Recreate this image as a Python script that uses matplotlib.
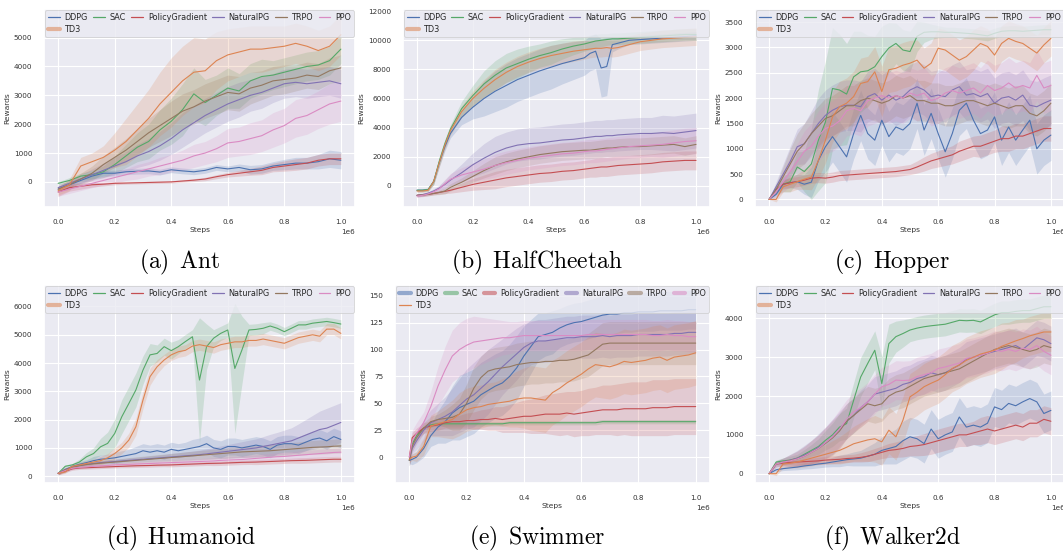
import numpy as np
import matplotlib
matplotlib.use("Agg")
import matplotlib.pyplot as plt
from matplotlib.ticker import MultipleLocator
import seaborn as sns

sns.set_theme(style="darkgrid")
plt.rcParams["font.family"] = ["DejaVu Sans"]
plt.rcParams["mathtext.fontset"] = "cm"

ALGOS = ["DDPG", "SAC", "PolicyGradient", "NaturalPG", "TRPO", "PPO", "TD3"]
COLORS = ["#4C72B0", "#55A868", "#C44E52", "#8172B3", "#937860", "#DA8BC3", "#DD8452"]

# ---------------- (a) Ant ----------------
ANT_STEPS = [0.0, 0.04, 0.08, 0.12, 0.16, 0.2, 0.24, 0.28, 0.32, 0.36, 0.4, 0.44, 0.48,
             0.52, 0.56, 0.6, 0.64, 0.68, 0.72, 0.76, 0.8, 0.84, 0.88, 0.92, 0.96, 1.0]
ANT_DDPG = [-250, -100, 50, 200, 300, 300, 350, 370, 380, 340, 420, 380, 350, 400, 500, 450, 500, 420, 450, 550, 600, 650, 650, 700, 800, 750]
ANT_SAC = [-50, 50, 200, 250, 350, 600, 900, 1200, 1400, 1800, 2100, 2500, 3050, 2750, 3000, 3250, 3150, 3500, 3650, 3700, 3800, 3900, 4000, 4050, 4200, 4600]
ANT_PG = [-350, -200, -150, -100, -80, -50, -40, -30, -20, -10, 0, 30, 60, 100, 180, 250, 300, 350, 400, 500, 550, 600, 650, 750, 800, 800]
ANT_NPG = [-200, -50, 100, 250, 400, 550, 700, 900, 1050, 1250, 1500, 1800, 2050, 2300, 2500, 2700, 2850, 3000, 3100, 3250, 3400, 3450, 3400, 3450, 3500, 3400]
ANT_TRPO = [-250, -100, 100, 300, 600, 850, 1100, 1400, 1700, 1950, 2200, 2450, 2600, 2800, 2950, 3100, 3050, 3250, 3350, 3500, 3550, 3600, 3700, 3650, 3850, 3950]
ANT_PPO = [-350, -250, -150, -50, 50, 150, 250, 350, 450, 550, 650, 750, 900, 1000, 1150, 1350, 1400, 1500, 1600, 1800, 1950, 2200, 2300, 2500, 2700, 2800]
ANT_TD3 = [-300, -100, 550, 700, 850, 1100, 1400, 1800, 2200, 2700, 3100, 3500, 3800, 3850, 4200, 4400, 4500, 4600, 4600, 4650, 4700, 4800, 4700, 4550, 4700, 5100]
ANT_DDPG_SD = [100, 100, 100, 100, 100, 100, 100, 100, 100, 100, 100, 100, 100, 100, 100, 100, 120, 150, 150, 150, 180, 200, 200, 250, 300, 300]
ANT_SAC_SD = [50, 100, 100, 150, 200, 300, 400, 500, 600, 700, 800, 900, 900, 800, 700, 700, 600, 600, 600, 500, 500, 500, 500, 500, 500, 500]
ANT_PG_SD = [150, 120, 100, 80, 60, 50, 40, 40, 40, 40, 40, 40, 50, 60, 70, 80, 100, 120, 150, 150, 180, 200, 200, 200, 200, 200]
ANT_NPG_SD = [100, 100, 150, 200, 250, 300, 350, 400, 450, 500, 550, 600, 600, 600, 600, 600, 600, 550, 550, 500, 500, 500, 500, 500, 500, 500]
ANT_TRPO_SD = [100, 150, 200, 250, 300, 350, 400, 450, 500, 550, 600, 600, 600, 600, 600, 600, 600, 550, 500, 500, 500, 450, 450, 450, 450, 450]
ANT_PPO_SD = [150, 150, 150, 150, 150, 200, 200, 250, 250, 300, 300, 350, 400, 400, 450, 500, 500, 550, 550, 600, 600, 650, 650, 650, 700, 700]
ANT_TD3_SD = [150, 200, 300, 300, 400, 600, 800, 900, 1000, 1100, 1200, 1200, 1200, 1100, 1000, 900, 850, 800, 800, 750, 700, 700, 700, 700, 700, 700]

# ---------------- (b) HalfCheetah ----------------
HC_STEPS = [0.0, 0.02, 0.04, 0.06, 0.08, 0.1, 0.12, 0.16, 0.2, 0.24, 0.28, 0.32, 0.36, 0.4, 0.44, 0.48,
            0.52, 0.56, 0.6, 0.62, 0.64, 0.66, 0.68, 0.7, 0.72, 0.76, 0.8, 0.84, 0.88, 0.92, 0.96, 1.0]
HC_DDPG = [-300, -300, -250, 300, 1600, 2700, 3600, 4700, 5400, 6000, 6500, 6900, 7300, 7600, 7900, 8150,
           8400, 8600, 8800, 9100, 9250, 8100, 8200, 9700, 9800, 10000, 10050, 10100, 10150, 10200, 10250, 10300]
HC_SAC = [-300, -300, -250, 300, 1700, 2900, 3900, 5300, 6200, 7000, 7600, 8100, 8400, 8700, 8950, 9150,
          9400, 9600, 9750, 9850, 9950, 10000, 10050, 10100, 10100, 10150, 10200, 10250, 10300, 10350, 10400, 10400]
HC_PG = [-650, -620, -580, -520, -450, -380, -300, -100, 100, 250, 400, 550, 650, 750, 850, 900,
         1000, 1050, 1150, 1200, 1250, 1300, 1300, 1350, 1400, 1450, 1500, 1550, 1650, 1700, 1750, 1750]
HC_NPG = [-650, -600, -500, -350, -150, 100, 400, 900, 1450, 1900, 2300, 2600, 2800, 2900, 2950, 3050,
          3150, 3200, 3300, 3350, 3400, 3400, 3450, 3450, 3500, 3550, 3600, 3600, 3650, 3600, 3700, 3800]
HC_TRPO = [-650, -620, -580, -520, -450, -350, -100, 250, 650, 1050, 1400, 1650, 1850, 2000, 2150, 2250,
           2350, 2400, 2450, 2450, 2500, 2550, 2600, 2600, 2650, 2700, 2700, 2750, 2800, 2850, 2700, 2850]
HC_PPO = [-700, -650, -550, -400, -200, 150, 450, 750, 950, 1150, 1400, 1600, 1750, 1900, 2000, 2100,
          2200, 2250, 2350, 2400, 2400, 2450, 2500, 2550, 2600, 2700, 2750, 2800, 2850, 2950, 3050, 3100]
HC_TD3 = [-350, -350, -300, 300, 1600, 2800, 3800, 5100, 6000, 6700, 7300, 7800, 8200, 8500, 8750, 8950,
          9100, 9250, 9350, 9400, 9450, 9450, 9500, 9450, 9500, 9700, 9900, 10000, 10100, 10150, 10200, 10250]
HC_DDPG_SD = [100, 100, 100, 200, 300, 300, 300, 500, 800, 1200, 1400, 1500, 1500, 1500, 1500, 1500,
              1400, 1300, 1200, 1200, 1200, 2000, 2000, 500, 400, 300, 300, 300, 300, 300, 300, 300]
HC_SAC_SD = [100, 100, 100, 200, 300, 300, 300, 500, 700, 900, 1000, 1000, 1000, 900, 800, 800,
             700, 600, 500, 500, 450, 450, 400, 400, 400, 400, 400, 400, 400, 400, 400, 400]
HC_PG_SD = [100, 100, 100, 100, 120, 150, 200, 300, 400, 500, 600, 600, 600, 600, 600, 600,
            600, 600, 600, 600, 650, 650, 650, 650, 650, 650, 650, 650, 650, 650, 650, 650]
HC_NPG_SD = [100, 100, 100, 150, 200, 300, 400, 600, 800, 1000, 1100, 1100, 1100, 1100, 1100, 1100,
             1100, 1100, 1100, 1100, 1100, 1100, 1100, 1100, 1100, 1100, 1100, 1100, 1200, 1200, 1200, 1200]
HC_TRPO_SD = [100, 100, 100, 100, 150, 200, 250, 300, 400, 500, 600, 600, 600, 600, 600, 600,
              600, 600, 600, 600, 600, 600, 600, 600, 600, 600, 600, 600, 600, 600, 600, 600]
HC_PPO_SD = [100, 100, 100, 150, 200, 300, 400, 500, 600, 700, 800, 800, 800, 800, 800, 800,
             800, 800, 800, 800, 800, 800, 800, 800, 800, 800, 800, 800, 900, 900, 900, 900]
HC_TD3_SD = [100, 100, 100, 200, 300, 300, 300, 400, 500, 600, 700, 700, 700, 700, 700, 700,
             700, 700, 650, 600, 600, 600, 600, 600, 600, 600, 600, 600, 600, 600, 600, 600]

# ---------------- (c) Hopper (steps every 0.025) ----------------
HOP_STEPS = [0.0, 0.025, 0.05, 0.075, 0.1, 0.125, 0.15, 0.175, 0.2, 0.225,
             0.25, 0.275, 0.3, 0.325, 0.35, 0.375, 0.4, 0.425, 0.45, 0.475,
             0.5, 0.525, 0.55, 0.575, 0.6, 0.625, 0.65, 0.675, 0.7, 0.725,
             0.75, 0.775, 0.8, 0.825, 0.85, 0.875, 0.9, 0.925, 0.95, 0.975, 1.0]
HOP_DDPG = [0, 100, 300, 330, 350, 300, 340, 770, 1040, 1240,
            1040, 840, 1300, 1660, 1300, 1170, 1565, 1240, 1430, 1370,
            1500, 1900, 1370, 1700, 1300, 940, 1300, 1760, 1900, 1565,
            1300, 1370, 1630, 1170, 1430, 1170, 1370, 1565, 1000, 1170, 1270]
HOP_SAC = [0, 200, 300, 350, 640, 550, 700, 1170, 1530, 2190,
           2160, 2080, 2420, 2520, 2540, 2620, 2820, 2990, 3080, 2950,
           2920, 3220, 3300, 3310, 3310, 3300, 3300, 3290, 3280, 3270,
           3250, 3230, 3280, 3320, 3330, 3330, 3320, 3330, 3340, 3350, 3350]
HOP_PG = [0, 200, 300, 330, 350, 380, 420, 430, 420, 440,
          470, 480, 490, 500, 510, 520, 530, 540, 550, 570,
          590, 640, 700, 760, 800, 840, 880, 950, 1000, 1050,
          1050, 1100, 1150, 1200, 1200, 1250, 1250, 1300, 1350, 1400, 1400]
HOP_NPG = [0, 250, 500, 750, 1040, 1100, 1300, 1500, 1660, 1760,
           1830, 1860, 1860, 1830, 2030, 2090, 1960, 2060, 1960, 2030,
           2160, 2225, 2160, 2030, 2060, 2030, 2160, 2225, 2060, 2090,
           2030, 2090, 1900, 2000, 2030, 1960, 2060, 1860, 1830, 1900, 1960]
HOP_TRPO = [0, 200, 450, 700, 950, 1100, 1300, 1450, 1600, 1650,
            1750, 1850, 1850, 1950, 2000, 1950, 1900, 1950, 2050, 2000,
            2050, 1950, 1950, 1900, 1900, 1850, 1850, 1900, 1950, 1950,
            1900, 1850, 1900, 1850, 1800, 1850, 1850, 1700, 1650, 1750, 1900]
HOP_PPO = [0, 150, 350, 550, 750, 950, 1050, 1250, 1400, 1450,
           1550, 1750, 1800, 1750, 1950, 2000, 2050, 2000, 2050, 2000,
           2100, 2050, 2100, 1950, 2000, 2100, 2150, 2100, 2150, 2200,
           2100, 2250, 2150, 2200, 2300, 2200, 2250, 2200, 2450, 2200, 2250]
HOP_TD3 = [0, 0, 250, 300, 350, 400, 440, 770, 1170, 1630,
           1830, 1900, 2030, 2290, 2325, 2520, 2130, 2560, 2590, 2650,
           2690, 2750, 2590, 2690, 2985, 2950, 2850, 2750, 2820, 2950,
           3080, 3020, 2850, 3080, 3180, 3120, 3080, 2985, 2890, 3050, 3180]
HOP_DDPG_SD = [0, 50, 100, 100, 150, 200, 300, 400, 500, 500,
               500, 500, 500, 500, 500, 500, 500, 500, 500, 500,
               500, 500, 500, 500, 500, 500, 500, 500, 500, 500,
               500, 500, 500, 500, 500, 500, 500, 500, 500, 500, 500]
HOP_SAC_SD = [0, 100, 150, 200, 300, 400, 700, 1000, 1200, 1200,
              1100, 1000, 900, 800, 700, 600, 600, 500, 400, 400,
              400, 300, 200, 150, 120, 100, 100, 100, 100, 100,
              100, 100, 100, 100, 100, 100, 100, 100, 100, 100, 100]
HOP_PG_SD = [0, 50, 80, 100, 100, 100, 100, 100, 100, 100,
             100, 100, 100, 100, 100, 100, 100, 100, 100, 100,
             100, 120, 140, 150, 160, 170, 180, 200, 200, 200,
             220, 220, 220, 250, 250, 250, 250, 250, 250, 250, 250]
HOP_NPG_SD = [0, 100, 200, 300, 350, 400, 450, 500, 500, 500,
              500, 500, 500, 500, 500, 500, 500, 500, 500, 500,
              500, 500, 500, 500, 500, 500, 500, 500, 500, 500,
              500, 500, 500, 500, 500, 500, 500, 500, 500, 500, 500]
HOP_TRPO_SD = [0, 100, 200, 300, 350, 400, 400, 400, 400, 400,
               400, 400, 400, 400, 400, 400, 400, 400, 400, 400,
               400, 400, 400, 400, 400, 400, 400, 400, 400, 400,
               400, 400, 400, 400, 400, 400, 400, 400, 400, 400, 400]
HOP_PPO_SD = [0, 100, 200, 300, 350, 400, 450, 500, 500, 500,
              500, 500, 500, 500, 500, 500, 500, 500, 500, 500,
              500, 500, 500, 500, 500, 500, 500, 500, 500, 500,
              500, 500, 500, 500, 500, 500, 500, 500, 500, 500, 500]
HOP_TD3_SD = [0, 50, 100, 150, 150, 200, 250, 350, 450, 500,
              500, 500, 500, 500, 500, 500, 500, 450, 450, 450,
              450, 400, 400, 400, 400, 400, 400, 400, 400, 400,
              350, 350, 350, 350, 350, 350, 350, 350, 350, 350, 350]

# ---------------- (d) Humanoid (steps every 0.025) ----------------
HUM_STEPS = HOP_STEPS
HUM_DDPG = [100, 200, 350, 420, 480, 550, 600, 620, 650, 700,
            750, 800, 900, 850, 900, 850, 950, 900, 950, 1000,
            1050, 1150, 1000, 950, 1050, 1050, 1000, 1050, 1100, 1050,
            950, 1100, 1150, 1150, 1100, 1200, 1300, 1350, 1250, 1400, 1300]
HUM_SAC = [100, 350, 400, 500, 685, 800, 1040, 1160, 1510, 2100,
           2570, 3050, 3750, 4290, 4340, 4580, 4440, 4580, 4760, 4930,
           3400, 4580, 4880, 5050, 5170, 3810, 4460, 5170, 5190, 5230,
           5310, 5230, 5110, 5230, 5350, 5350, 5410, 5440, 5470, 5430, 5380]
HUM_PG = [100, 180, 260, 290, 300, 310, 320, 330, 340, 350,
          360, 370, 375, 380, 390, 395, 400, 410, 420, 430,
          440, 450, 455, 460, 470, 480, 490, 495, 500, 510,
          520, 530, 540, 550, 555, 560, 570, 580, 590, 600, 600]
HUM_NPG = [100, 250, 330, 380, 420, 450, 480, 500, 520, 540,
           560, 580, 600, 620, 640, 660, 680, 700, 720, 740,
           760, 790, 820, 850, 880, 910, 940, 970, 1000, 1050,
           1100, 1150, 1200, 1250, 1350, 1450, 1550, 1650, 1700, 1800, 1900]
HUM_TRPO = [100, 230, 320, 370, 410, 440, 460, 480, 500, 520,
            540, 560, 580, 600, 620, 640, 660, 680, 700, 720,
            740, 760, 780, 800, 820, 840, 860, 870, 880, 890,
            900, 920, 940, 960, 980, 1000, 1020, 1030, 1040, 1060, 1070]
HUM_PPO = [100, 200, 280, 310, 330, 350, 370, 380, 400, 410,
           420, 430, 440, 450, 460, 470, 480, 490, 500, 510,
           520, 530, 540, 560, 570, 580, 590, 610, 630, 650,
           670, 690, 700, 720, 740, 760, 780, 800, 820, 840, 850]
HUM_TD3 = [100, 150, 350, 400, 450, 500, 550, 650, 800, 1000,
           1275, 1750, 2690, 3520, 3870, 4110, 4290, 4400, 4450, 4600,
           4650, 4600, 4550, 4650, 4700, 4750, 4750, 4800, 4800, 4850,
           4800, 4750, 4700, 4800, 4900, 4950, 5000, 4950, 5200, 5200, 5050]
HUM_DDPG_SD = [50, 50, 80, 100, 100, 150, 150, 150, 200, 200,
               200, 250, 250, 250, 250, 250, 250, 250, 250, 300,
               300, 300, 300, 300, 300, 300, 300, 300, 300, 300,
               300, 300, 300, 300, 300, 300, 300, 300, 300, 300, 300]
HUM_SAC_SD = [50, 50, 50, 100, 150, 200, 300, 400, 500, 600,
              600, 600, 500, 400, 300, 300, 300, 250, 250, 250,
              2200, 800, 300, 250, 250, 2300, 1200, 200, 200, 200,
              150, 150, 150, 150, 150, 150, 150, 150, 150, 150, 150]
HUM_PG_SD = [50, 50, 50, 50, 50, 50, 50, 50, 50, 50,
             60, 60, 60, 60, 60, 60, 70, 70, 70, 70,
             70, 70, 80, 80, 80, 80, 80, 80, 90, 90,
             90, 90, 90, 90, 100, 100, 100, 100, 100, 100, 100]
HUM_NPG_SD = [50, 50, 50, 50, 50, 60, 60, 70, 70, 80,
              80, 90, 90, 100, 100, 110, 120, 130, 140, 150,
              160, 180, 200, 220, 240, 260, 280, 300, 320, 350,
              380, 400, 430, 460, 500, 550, 600, 650, 700, 700, 700]
HUM_TRPO_SD = [50, 50, 60, 70, 80, 90, 100, 100, 110, 110,
               120, 120, 130, 130, 140, 140, 150, 150, 160, 160,
               170, 170, 180, 180, 190, 190, 200, 200, 200, 210,
               210, 220, 220, 230, 230, 240, 240, 250, 250, 250, 250]
HUM_PPO_SD = [50, 50, 50, 50, 50, 60, 60, 60, 70, 70,
              70, 80, 80, 80, 90, 90, 90, 100, 100, 100,
              100, 110, 110, 110, 120, 120, 120, 130, 130, 130,
              140, 140, 140, 150, 150, 150, 150, 150, 150, 150, 150]
HUM_TD3_SD = [50, 50, 50, 80, 100, 100, 150, 150, 200, 200,
              250, 300, 300, 300, 250, 200, 200, 200, 200, 200,
              200, 200, 200, 200, 200, 200, 200, 200, 200, 200,
              200, 200, 200, 200, 200, 200, 200, 200, 200, 200, 200]

# ---------------- (e) Swimmer ----------------
SWI_STEPS = [0.0, 0.01, 0.025, 0.05, 0.075, 0.1, 0.125, 0.15, 0.175, 0.2,
             0.225, 0.25, 0.275, 0.3, 0.325, 0.35, 0.375, 0.4, 0.425, 0.45,
             0.475, 0.5, 0.525, 0.55, 0.575, 0.6, 0.625, 0.65, 0.675, 0.7,
             0.725, 0.75, 0.775, 0.8, 0.825, 0.85, 0.875, 0.9, 0.925, 0.95,
             0.975, 1.0]
SWI_DDPG = [-3, -2, 0, 8, 20, 28, 33, 41, 46, 49,
            52, 58, 62, 66, 69, 75, 83, 94, 103, 112,
            114, 116, 120, 123, 125, 126, 128, 130, 132, 133,
            133, 134, 134, 135, 135, 135, 136, 136, 136, 136,
            137, 137]
SWI_SAC = [-3, 12, 20, 27, 30, 31, 31, 31, 31, 31,
           31, 31, 31, 31, 31, 32, 32, 32, 32, 32,
           32, 32, 32, 32, 32, 32, 32, 32, 33, 33,
           33, 33, 33, 33, 33, 33, 33, 33, 33, 33,
           33, 33]
SWI_PG = [0, 18, 22, 27, 29, 30, 32, 33, 33, 34,
          34, 35, 35, 36, 35, 36, 37, 38, 38, 39,
          40, 40, 40, 41, 40, 41, 42, 43, 44, 44,
          44, 45, 45, 45, 45, 46, 46, 46, 47, 47,
          47, 47]
SWI_NPG = [-3, 8, 15, 25, 32, 35, 38, 42, 48, 54,
           58, 64, 70, 77, 84, 90, 96, 102, 106, 108,
           108, 109, 110, 111, 111, 112, 112, 112, 113, 112,
           113, 113, 113, 114, 114, 114, 114, 114, 115, 115,
           116, 116]
SWI_TRPO = [-3, 10, 18, 27, 33, 35, 36, 37, 40, 50,
            64, 74, 80, 82, 83, 84, 86, 87, 88, 88,
            89, 89, 90, 90, 91, 93, 95, 100, 105, 106,
            106, 106, 106, 106, 106, 106, 106, 106, 106, 106,
            106, 106]
SWI_PPO = [0, 15, 22, 32, 47, 66, 81, 94, 100, 104,
           107, 108, 109, 110, 111, 111, 112, 113, 113, 113,
           113, 113, 113, 113, 113, 113, 114, 114, 114, 114,
           114, 114, 114, 114, 114, 113, 113, 114, 113, 113,
           112, 112]
SWI_TD3 = [-2, 0, 1, 10, 29, 31, 33, 35, 40, 44,
           46, 47, 49, 50, 51, 52, 54, 55, 55, 54,
           53, 60, 64, 69, 73, 77, 82, 86, 85, 84,
           86, 89, 88, 89, 90, 92, 93, 90, 93, 94,
           95, 97]
SWI_DDPG_SD = [3, 5, 5, 8, 10, 15, 20, 25, 30, 30,
               30, 30, 30, 30, 30, 30, 30, 28, 25, 22,
               20, 20, 18, 18, 18, 18, 18, 18, 18, 18,
               18, 18, 18, 18, 18, 18, 18, 18, 18, 18,
               18, 18]
SWI_SAC_SD = [5, 4, 3, 2, 2, 2, 2, 2, 2, 2,
              2, 2, 2, 2, 2, 2, 2, 2, 2, 2,
              2, 2, 2, 2, 2, 2, 2, 2, 2, 2,
              2, 2, 2, 2, 2, 2, 2, 2, 2, 2,
              2, 2]
SWI_PG_SD = [5, 5, 5, 5, 5, 5, 5, 6, 6, 7,
             8, 9, 10, 11, 12, 13, 14, 15, 16, 17,
             18, 19, 20, 20, 21, 21, 22, 22, 23, 23,
             24, 24, 25, 25, 25, 26, 26, 26, 26, 26,
             26, 26]
SWI_NPG_SD = [5, 5, 8, 10, 12, 15, 18, 22, 25, 28,
              30, 30, 30, 28, 26, 25, 24, 22, 20, 20,
              20, 20, 20, 20, 20, 20, 20, 20, 20, 20,
              20, 20, 20, 20, 20, 20, 20, 20, 20, 20,
              20, 20]
SWI_TRPO_SD = [5, 5, 5, 5, 5, 5, 8, 12, 15, 18,
               20, 20, 20, 20, 20, 20, 20, 20, 20, 20,
               20, 20, 20, 20, 20, 20, 20, 20, 20, 20,
               20, 20, 20, 20, 20, 20, 20, 20, 20, 20,
               20, 20]
SWI_PPO_SD = [8, 10, 10, 10, 14, 18, 22, 24, 25, 25,
              24, 22, 20, 18, 16, 15, 14, 14, 14, 14,
              14, 14, 14, 14, 14, 14, 14, 14, 14, 14,
              14, 14, 14, 14, 14, 14, 14, 14, 14, 14,
              14, 14]
SWI_TD3_SD = [3, 3, 5, 8, 10, 12, 15, 18, 20, 20,
              20, 20, 20, 20, 22, 24, 26, 28, 30, 30,
              30, 30, 30, 30, 30, 30, 30, 30, 30, 30,
              30, 30, 30, 30, 30, 30, 30, 30, 30, 30,
              30, 30]

# ---------------- (f) Walker2d (steps every 0.025) ----------------
WAL_STEPS = HOP_STEPS
WAL_DDPG = [0, 100, 130, 150, 170, 200, 220, 250, 270, 300,
            330, 360, 380, 400, 450, 500, 600, 650, 700, 850,
            950, 900, 775, 1150, 900, 1000, 1075, 1460, 1200, 1250,
            1200, 1300, 1720, 1650, 1810, 1750, 1850, 1935, 1850, 1550, 1630]
WAL_SAC = [0, 300, 330, 350, 400, 500, 600, 700, 860, 1000,
           1200, 1290, 1890, 2490, 2840, 3180, 2320, 3350, 3530, 3610,
           3700, 3750, 3785, 3810, 3830, 3850, 3900, 3950, 3940, 3950,
           3910, 4000, 4090, 4150, 4150, 4180, 4200, 4200, 4250, 4300, 4300]
WAL_PG = [0, 250, 270, 290, 300, 310, 320, 330, 350, 360,
          370, 390, 400, 420, 450, 500, 550, 600, 620, 650,
          700, 720, 750, 800, 850, 900, 950, 1000, 1000, 1050,
          1100, 1150, 1100, 1150, 1200, 1250, 1200, 1300, 1300, 1400, 1350]
WAL_NPG = [0, 250, 300, 350, 400, 480, 560, 680, 800, 950,
           1150, 1350, 1500, 1700, 1850, 2050, 2100, 2150, 2200, 2300,
           2350, 2450, 2500, 2600, 2550, 2600, 2700, 2800, 2950, 3000,
           3050, 3100, 3150, 3200, 3250, 3300, 3200, 3350, 3500, 3450, 3350]
WAL_TRPO = [0, 250, 300, 340, 380, 450, 550, 650, 780, 920,
            1100, 1350, 1500, 1650, 1800, 1750, 1800, 2000, 2100, 2150,
            2250, 2350, 2450, 2500, 2550, 2600, 2650, 2700, 2800, 2900,
            3000, 3100, 3200, 3250, 3300, 3250, 3200, 3150, 3200, 3300, 3250]
WAL_PPO = [0, 250, 300, 330, 380, 450, 550, 650, 800, 950,
           1150, 1400, 1590, 1700, 1850, 2050, 2240, 2300, 2410, 2400,
           2410, 2500, 2550, 2600, 2710, 2750, 2800, 2850, 2970, 3000,
           3050, 3100, 3180, 3150, 3200, 3150, 3230, 3200, 3300, 3150, 3050]
WAL_TD3 = [0, 0, 250, 270, 300, 350, 400, 450, 500, 550,
           600, 680, 770, 820, 870, 900, 820, 1120, 950, 1380,
           1980, 2100, 2240, 2330, 2410, 2550, 2710, 2800, 2920, 3000,
           3080, 3130, 3180, 3280, 3350, 3420, 3480, 3550, 3600, 3650, 3650]
WAL_DDPG_SD = [0, 50, 50, 60, 70, 80, 90, 100, 100, 120,
               150, 150, 180, 200, 250, 300, 350, 400, 450, 500,
               500, 500, 500, 500, 500, 500, 500, 500, 500, 500,
               500, 500, 500, 500, 500, 500, 500, 500, 500, 500, 500]
WAL_SAC_SD = [0, 50, 80, 100, 100, 120, 150, 200, 250, 300,
              350, 400, 450, 500, 500, 500, 700, 500, 400, 350,
              300, 300, 300, 300, 300, 300, 300, 300, 300, 300,
              300, 300, 300, 300, 300, 300, 300, 300, 300, 300, 300]
WAL_PG_SD = [0, 30, 40, 50, 60, 70, 80, 90, 100, 100,
             100, 100, 100, 120, 140, 150, 160, 180, 200, 220,
             240, 260, 280, 300, 300, 300, 300, 300, 300, 300,
             350, 350, 350, 350, 350, 350, 350, 350, 350, 350, 350]
WAL_NPG_SD = [0, 80, 100, 150, 200, 250, 300, 350, 400, 450,
              450, 450, 450, 450, 450, 450, 450, 450, 450, 450,
              450, 450, 450, 450, 450, 450, 450, 450, 450, 450,
              450, 450, 450, 450, 450, 450, 450, 450, 450, 450, 450]
WAL_TRPO_SD = [0, 80, 100, 150, 200, 250, 300, 350, 400, 450,
               450, 450, 450, 450, 450, 450, 450, 450, 450, 450,
               450, 450, 450, 450, 450, 450, 450, 450, 450, 450,
               450, 450, 450, 450, 450, 450, 450, 450, 450, 450, 450]
WAL_PPO_SD = [0, 80, 100, 150, 200, 250, 300, 350, 400, 450,
              500, 500, 500, 500, 500, 500, 500, 500, 500, 500,
              500, 500, 500, 500, 500, 500, 500, 500, 500, 500,
              500, 500, 500, 500, 500, 500, 500, 500, 500, 500, 500]
WAL_TD3_SD = [0, 50, 100, 120, 150, 180, 200, 220, 250, 300,
              350, 400, 450, 500, 550, 600, 600, 600, 600, 600,
              600, 600, 600, 600, 600, 600, 600, 600, 600, 600,
              600, 600, 600, 600, 550, 550, 500, 500, 500, 500, 500]

PANELS = [
    dict(rect=(44, 9, 355, 207), steps=ANT_STEPS,
         means=[ANT_DDPG, ANT_SAC, ANT_PG, ANT_NPG, ANT_TRPO, ANT_PPO, ANT_TD3],
         sds=[ANT_DDPG_SD, ANT_SAC_SD, ANT_PG_SD, ANT_NPG_SD, ANT_TRPO_SD, ANT_PPO_SD, ANT_TD3_SD],
         ylim=(-870, 5990), ystep=1000, thick=["TD3"], caption=r"$\mathrm{(a)\enspace Ant}$", cap=(180, 262)),
    dict(rect=(403, 9, 710, 207), steps=HC_STEPS,
         means=[HC_DDPG, HC_SAC, HC_PG, HC_NPG, HC_TRPO, HC_PPO, HC_TD3],
         sds=[HC_DDPG_SD, HC_SAC_SD, HC_PG_SD, HC_NPG_SD, HC_TRPO_SD, HC_PPO_SD, HC_TD3_SD],
         ylim=(-1450, 12150), ystep=2000, thick=["TD3"], caption=r"$\mathrm{(b)\enspace HalfCheetah}$", cap=(537, 262)),
    dict(rect=(755, 9, 1065, 207), steps=HOP_STEPS,
         means=[HOP_DDPG, HOP_SAC, HOP_PG, HOP_NPG, HOP_TRPO, HOP_PPO, HOP_TD3],
         sds=[HOP_DDPG_SD, HOP_SAC_SD, HOP_PG_SD, HOP_NPG_SD, HOP_TRPO_SD, HOP_PPO_SD, HOP_TD3_SD],
         ylim=(-150, 3760), ystep=500, thick=["TD3"], caption=r"$\mathrm{(c)\enspace Hopper}$", cap=(892, 262)),
    dict(rect=(44, 285, 355, 483), steps=HUM_STEPS,
         means=[HUM_DDPG, HUM_SAC, HUM_PG, HUM_NPG, HUM_TRPO, HUM_PPO, HUM_TD3],
         sds=[HUM_DDPG_SD, HUM_SAC_SD, HUM_PG_SD, HUM_NPG_SD, HUM_TRPO_SD, HUM_PPO_SD, HUM_TD3_SD],
         ylim=(-240, 6760), ystep=1000, thick=["TD3"], caption=r"$\mathrm{(d)\enspace Humanoid}$", cap=(181, 538)),
    dict(rect=(395, 285, 710, 483), steps=SWI_STEPS,
         means=[SWI_DDPG, SWI_SAC, SWI_PG, SWI_NPG, SWI_TRPO, SWI_PPO, SWI_TD3],
         sds=[SWI_DDPG_SD, SWI_SAC_SD, SWI_PG_SD, SWI_NPG_SD, SWI_TRPO_SD, SWI_PPO_SD, SWI_TD3_SD],
         ylim=(-24, 160), ystep=25, thick=["DDPG", "SAC", "PolicyGradient", "NaturalPG", "TRPO", "PPO"],
         caption=r"$\mathrm{(e)\enspace Swimmer}$", cap=(537, 538)),
    dict(rect=(755, 285, 1065, 483), steps=WAL_STEPS,
         means=[WAL_DDPG, WAL_SAC, WAL_PG, WAL_NPG, WAL_TRPO, WAL_PPO, WAL_TD3],
         sds=[WAL_DDPG_SD, WAL_SAC_SD, WAL_PG_SD, WAL_NPG_SD, WAL_TRPO_SD, WAL_PPO_SD, WAL_TD3_SD],
         ylim=(-240, 4860), ystep=1000, thick=["TD3"], caption=r"$\mathrm{(f)\enspace Walker2d}$", cap=(892, 538)),
]

W, H = 1063, 553
fig = plt.figure(figsize=(W / 100, H / 100), dpi=100)

TICK_FS = 5.2
LABEL_FS = 5.4
LEG_FS = 5.9
# legend fills column by column: put TD3 under DDPG so rows read like the original
LEG_ORDER = [0, 6, 1, 2, 3, 4, 5]

for p in PANELS:
    l, t, r, b = p["rect"]
    ax = fig.add_axes([l / W, 1 - b / H, (r - l) / W, (b - t) / H])
    x = np.asarray(p["steps"]) * 1e6
    handles = []
    for name, col, m, s in zip(ALGOS, COLORS, p["means"], p["sds"]):
        m = np.asarray(m, float)
        s = np.asarray(s, float)
        assert len(m) == len(x) and len(s) == len(x), name
        ax.fill_between(x, m - s, m + s, color=col, alpha=0.2, linewidth=0)
        ax.plot(x, m, color=col, lw=0.8)
        if name in p["thick"]:
            h = plt.Line2D([], [], color=col, lw=3.0, alpha=0.55)
        else:
            h = plt.Line2D([], [], color=col, lw=0.9)
        handles.append(h)
    ax.set_xlim(-0.05e6, 1.05e6)
    ax.set_ylim(*p["ylim"])
    ax.xaxis.set_major_locator(MultipleLocator(0.2e6))
    ax.yaxis.set_major_locator(MultipleLocator(p["ystep"]))
    ax.tick_params(labelsize=TICK_FS, pad=2.5, colors="#333333")
    ax.xaxis.get_offset_text().set_fontsize(TICK_FS)
    ax.xaxis.get_offset_text().set_color("#333333")
    ax.grid(True, color="white", lw=0.8)
    ax.set_xlabel("Steps", fontsize=LABEL_FS, labelpad=1.5, color="#333333")
    ax.set_ylabel("Rewards", fontsize=LABEL_FS, labelpad=2.5, color="#333333")
    leg = ax.legend([handles[i] for i in LEG_ORDER], [ALGOS[i] for i in LEG_ORDER],
                    loc="upper left", bbox_to_anchor=(0, 0, 1, 1),
                    mode="expand", ncol=6, fontsize=LEG_FS, handlelength=1.4,
                    handletextpad=0.6, columnspacing=0.8, borderaxespad=0.15,
                    labelspacing=0.35, borderpad=0.35, framealpha=0.8)
    leg.get_frame().set_linewidth(0.6)
    fig.text(p["cap"][0] / W, 1 - p["cap"][1] / H, p["caption"], fontsize=17,
             ha="center", va="center", color="black")

fig.savefig("out.png", dpi=100)
